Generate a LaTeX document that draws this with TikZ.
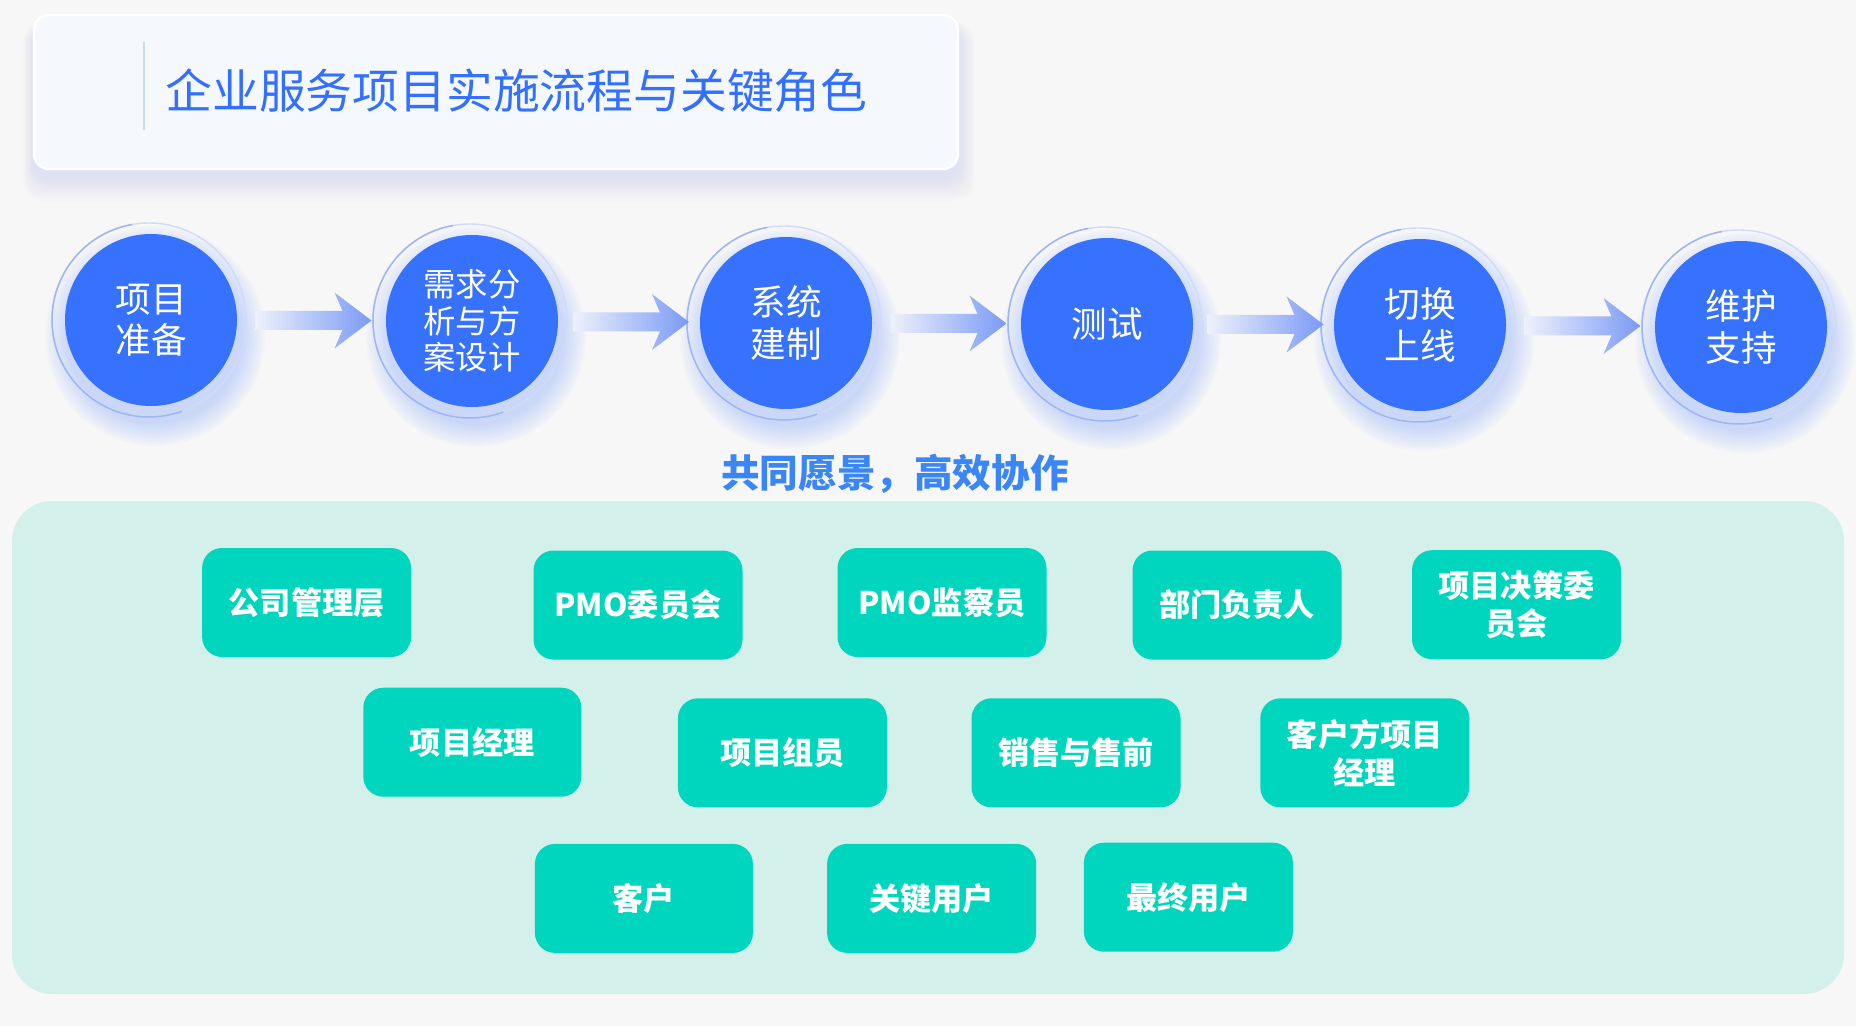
\documentclass[tikz,border=0pt]{standalone}
\usepackage{fontspec}
\setmainfont{Noto Sans CJK SC}
\usetikzlibrary{calc}
\definecolor{bgc}{HTML}{F7F7F7}
\definecolor{titlefill}{HTML}{F5F9FE}
\definecolor{titleblue}{HTML}{3370FF}
\definecolor{circblue}{HTML}{3672FE}
\definecolor{ringblue}{HTML}{9DB6F8}
\definecolor{arrowblue}{HTML}{7A9AF6}
\definecolor{arrowfade}{HTML}{EEF1FB}
\definecolor{visionblue}{HTML}{3A86F7}
\definecolor{panelc}{HTML}{D3F1EA}
\definecolor{tealc}{HTML}{00D6BE}
\definecolor{barc}{HTML}{CAD9F6}
\definecolor{shadowc}{HTML}{B3C2F2}
\tikzset{
  stage/.style={circle, fill=circblue, minimum size=86pt, inner sep=0pt, text=white, align=center},
  stagetwo/.style={stage, font=\fontsize{17.8pt}{20.7pt}\selectfont},
  stagethree/.style={stage, font=\fontsize{16.2pt}{18.3pt}\selectfont},
  rolebox/.style={rectangle, rounded corners=10pt, fill=tealc, minimum width=104.5pt, minimum height=54.5pt, inner sep=0pt, text=white, align=center, font=\fontsize{15.6pt}{19pt}\selectfont\bfseries},
  widebox/.style={rolebox, minimum width=109pt},
  flowarrow/.pic={
    \shade[left color=arrowfade, right color=arrowblue]
      (-58,-9.5) -- (29,-9.5) -- (21,-28) -- (58,0) -- (21,28) -- (29,9.5) -- (-58,9.5) -- cycle;
  }
}
\begin{document}
\begin{tikzpicture}[x=0.5pt, y=-0.5pt]
% background
\fill[bgc] (0,0) rectangle (1856,1026);
\useasboundingbox (0,0) rectangle (1856,1026);

% title box shadow
\foreach \i in {1,...,12} {
  \fill[shadowc, opacity=0.028, rounded corners=10pt] ($(34,26)+(-0.9*\i,-0.3*\i)$) rectangle ($(958,178)+(1.4*\i,1.9*\i)$);
}
\fill[titlefill, draw=white, line width=1.2pt, rounded corners=7.5pt] (34,15) rectangle (958,169);
\draw[barc, line width=1.3pt] (144,42) coordinate (bartop) -- (144,130) coordinate (barbot);
\node[anchor=west, inner sep=0pt, text=titleblue, font=\fontsize{23.4pt}{28pt}\selectfont] (title) at (165,91) {企业服务项目实施流程与关键角色};

% stage centres
\coordinate (p1) at (151,320);
\coordinate (p2) at (472,321);
\coordinate (p3) at (786,323);
\coordinate (p4) at (1107,324);
\coordinate (p5) at (1420,325);
\coordinate (p6) at (1741,327);

% glows and rings
\foreach \p in {p1,p2,p3,p4,p5,p6} {
  \foreach \i [evaluate=\i as \r using (86+2.4*\i)/2] in {1,...,10} {
    \fill[circblue, opacity=0.022] ($(\p)+(4,16)$) circle[radius=\r pt];
  }
  \draw[ringblue!50, line width=0.7pt] ($(\p)+(-2,0)$) circle[radius=48.5pt];
  \draw[ringblue, line width=0.75pt] ($(\p)+(-2,0)+(100:48.5pt)$) arc[start angle=100, end angle=290, radius=48.5pt];
}

% stages
\node[stagetwo] (c1) at (p1) {项目\\准备};
\node[stagethree] (c2) at (p2) {需求分\\析与方\\案设计};
\node[stagetwo] (c3) at (p3) {系统\\建制};
\node[stagetwo] (c4) at (p4) {测试};
\node[stagetwo] (c5) at (p5) {切换\\上线};
\node[stagetwo] (c6) at (p6) {维护\\支持};

% arrows
\path ($(c1.center)!0.5!(c2.center)+(2,0)$) pic {flowarrow};
\path ($(c2.center)!0.5!(c3.center)+(2,0)$) pic {flowarrow};
\path ($(c3.center)!0.5!(c4.center)+(2,0)$) pic {flowarrow};
\path ($(c4.center)!0.5!(c5.center)+(2,0)$) pic {flowarrow};
\path ($(c5.center)!0.5!(c6.center)+(2,0)$) pic {flowarrow};

% vision text
\node[text=visionblue, font=\fontsize{19.3pt}{23pt}\selectfont\bfseries, inner sep=0pt] (vision) at (895,474) {共同愿景，高效协作};

% panel
\fill[panelc, rounded corners=20pt] (12,501) rectangle (1844,994);

% roles
\node[rolebox] (r1) at (306.6,602.5) {公司管理层};
\node[rolebox] (r2) at (638,605) {PMO委员会};
\node[rolebox] (r3) at (942,602.5) {PMO监察员};
\node[rolebox] (r4) at (1237,605) {部门负责人};
\node[rolebox] (r5) at (1516.5,604.7) {项目决策委\\员会};
\node[widebox] (r6) at (472.3,742.2) {项目经理};
\node[rolebox] (r7) at (782.4,752.8) {项目组员};
\node[rolebox] (r8) at (1076,752.8) {销售与售前};
\node[rolebox] (r9) at (1364.8,752.8) {客户方项目\\经理};
\node[widebox] (r10) at (643.9,898.4) {客户};
\node[rolebox] (r11) at (931.6,898.4) {关键用户};
\node[rolebox] (r12) at (1188.4,897.2) {最终用户};
\end{tikzpicture}
\end{document}
